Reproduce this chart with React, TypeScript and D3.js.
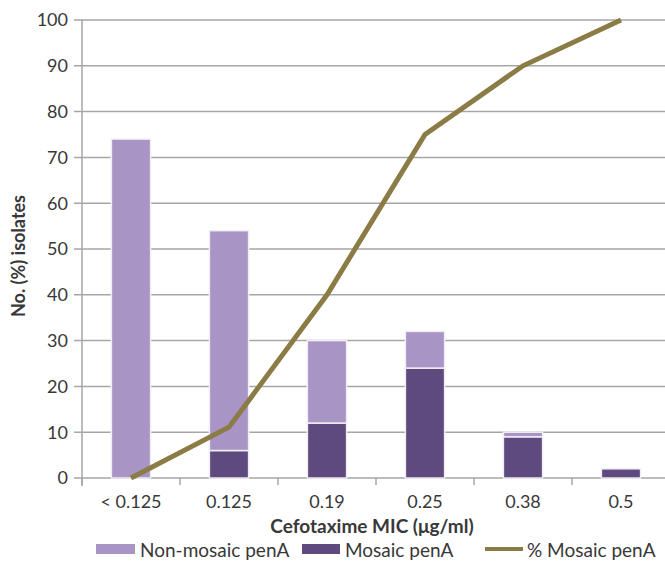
import React from "react";
import * as d3 from "d3";

const categories = ["< 0.125", "0.125", "0.19", "0.25", "0.38", "0.5"];
const nonMosaic = [74, 48, 18, 8, 1, 0];
const mosaic = [0, 6, 12, 24, 9, 2];
const pctMosaic = [0, 11.1, 40, 75, 90, 100];
const yTicks = [0, 10, 20, 30, 40, 50, 60, 70, 80, 90, 100];

const W = 665;
const H = 568;
const left = 82;
const right = 670;
const top = 20;
const bottom = 478;
const FONT = "Lato, 'Open Sans', sans-serif";
const TEXT = "#383838";
const LIGHT = "#a994c6";
const DARK = "#5e4a7e";
const OLIVE = "#8b7b45";

export default function App() {
  const x = d3.scaleBand<string>().domain(categories).range([left, right]).paddingInner(0.6).paddingOuter(0.3);
  const xc = d3.scaleBand<string>().domain(categories).range([left, right]);
  const y = d3.scaleLinear().domain([0, 100]).range([bottom, top]);
  const line = d3
    .line<number>()
    .x((_, i) => (xc(categories[i]) as number) + xc.bandwidth() / 2)
    .y((d) => y(d));

  return (
    <svg width={W} height={H} style={{ position: "absolute", left: 0, top: 0, background: "#fff" }}>
      {/* gridlines */}
      {yTicks.map((t) => (
        <g key={t}>
          <line x1={left - 8} x2={W} y1={y(t)} y2={y(t)} stroke="#a6a6a6" strokeWidth={1.5} />
          <text x={68} y={y(t)} dy="0.35em" textAnchor="end" fontFamily={FONT} fontSize={18} fill={TEXT}>
            {t}
          </text>
        </g>
      ))}
      {/* y axis */}
      <line x1={left} x2={left} y1={top} y2={bottom + 8} stroke="#a6a6a6" strokeWidth={1.5} />
      {/* x ticks */}
      {categories.map((c) => (
        <line key={c} x1={xc(c) as number} x2={xc(c) as number} y1={bottom} y2={bottom + 7} stroke="#a6a6a6" strokeWidth={1.5} />
      ))}
      {/* bars */}
      {categories.map((c, i) => {
        const bx = x(c) as number;
        const bw = x.bandwidth();
        return (
          <g key={c}>
            {mosaic[i] > 0 && (
              <rect x={bx} y={y(mosaic[i])} width={bw} height={y(0) - y(mosaic[i])} fill={DARK} stroke="#f0eef4" strokeWidth={1.5} />
            )}
            {nonMosaic[i] > 0 && (
              <rect
                x={bx}
                y={y(mosaic[i] + nonMosaic[i])}
                width={bw}
                height={y(mosaic[i]) - y(mosaic[i] + nonMosaic[i])}
                fill={LIGHT}
                stroke="#f0eef4"
                strokeWidth={1.5}
              />
            )}
          </g>
        );
      })}
      {/* line */}
      <path d={line(pctMosaic) || ""} fill="none" stroke={OLIVE} strokeWidth={5} strokeLinejoin="miter" />
      {/* x tick labels */}
      {categories.map((c) => (
        <text
          key={c}
          x={(xc(c) as number) + xc.bandwidth() / 2}
          y={502}
          dy="0.35em"
          textAnchor="middle"
          fontFamily={FONT}
          fontSize={18}
          fill={TEXT}
        >
          {c}
        </text>
      ))}
      <text x={372} y={526} dy="0.35em" textAnchor="middle" fontFamily={FONT} fontSize={19} fontWeight="bold" fill={TEXT}>
        Cefotaxime MIC (μg/ml)
      </text>
      <text
        transform={`translate(19,${256}) rotate(-90)`}
        dy="0.35em"
        textAnchor="middle"
        fontFamily={FONT}
        fontSize={18}
        fontWeight="bold"
        fill={TEXT}
      >
        No. (%) isolates
      </text>
      {/* legend */}
      <rect x={96} y={544} width={39} height={10} fill={LIGHT} />
      <text x={140} y={550} dy="0.35em" fontFamily={FONT} fontSize={19} fill={TEXT}>
        Non-mosaic penA
      </text>
      <rect x={302} y={544} width={38} height={10} fill={DARK} />
      <text x={345} y={550} dy="0.35em" fontFamily={FONT} fontSize={19} fill={TEXT}>
        Mosaic penA
      </text>
      <line x1={485} x2={523} y1={549} y2={549} stroke={OLIVE} strokeWidth={4} />
      <text x={527} y={550} dy="0.35em" fontFamily={FONT} fontSize={19} fill={TEXT}>
        % Mosaic penA
      </text>
    </svg>
  );
}
